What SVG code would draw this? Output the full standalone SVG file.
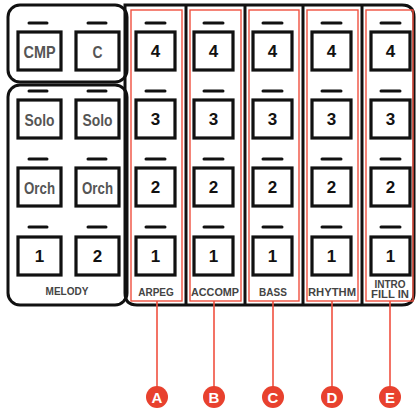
<svg xmlns="http://www.w3.org/2000/svg" width="418" height="409" viewBox="0 0 418 409">
<style>
.frame{fill:none;stroke:#111;stroke-width:3}
.btn{fill:#fff;stroke:#111;stroke-width:3.2}
.led{stroke:#111;stroke-width:3;stroke-linecap:round}
.red{fill:none;stroke:#f0503f;stroke-width:1.4}
.num{font-family:"Liberation Sans",Arial,sans-serif;font-weight:bold;font-size:17px;fill:#111;text-anchor:middle}
.word{font-family:"Liberation Sans",Arial,sans-serif;font-weight:bold;font-size:17px;fill:#555;text-anchor:middle}
.lab{font-family:"Liberation Sans",Arial,sans-serif;font-weight:bold;font-size:10px;fill:#444;text-anchor:middle}
.lead{stroke:#f0503f;stroke-width:1.6}
.dot{fill:#e8412e}
.let{font-family:"Liberation Sans",Arial,sans-serif;font-weight:bold;font-size:15px;fill:#fff;text-anchor:middle}
</style>
<rect width="418" height="409" fill="#fff"/>
<g id="frames">
<rect class="frame" x="8" y="5" width="119" height="77" rx="12"/>
<rect class="frame" x="8" y="85" width="119" height="220" rx="12"/>
<path class="frame" d="M125 5 H402 Q414 5 414 17 V293 Q414 305 402 305 H137 Q125 305 125 293 Z"/>
<line class="frame" x1="186" y1="5" x2="186" y2="305"/>
<line class="frame" x1="245" y1="5" x2="245" y2="305"/>
<line class="frame" x1="303" y1="5" x2="303" y2="305"/>
<line class="frame" x1="362" y1="5" x2="362" y2="305"/>
</g>
<g id="left-buttons">
<g id="cmp"><line class="led" x1="29" y1="23" x2="47" y2="23"/><rect class="btn" x="18" y="32" width="43" height="38"/><text class="word" x="39.5" y="57.5" textLength="32" lengthAdjust="spacingAndGlyphs">CMP</text></g>
<g id="c"><line class="led" x1="88" y1="23" x2="106" y2="23"/><rect class="btn" x="76" y="32" width="43" height="38"/><text class="word" x="97.5" y="57.5" textLength="10" lengthAdjust="spacingAndGlyphs">C</text></g>
<g id="solo1"><line class="led" x1="29" y1="91" x2="47" y2="91"/><rect class="btn" x="18" y="100" width="43" height="38"/><text class="word" x="39.5" y="125.5" textLength="30" lengthAdjust="spacingAndGlyphs">Solo</text></g>
<g id="solo2"><line class="led" x1="88" y1="91" x2="106" y2="91"/><rect class="btn" x="76" y="100" width="43" height="38"/><text class="word" x="97.5" y="125.5" textLength="30" lengthAdjust="spacingAndGlyphs">Solo</text></g>
<g id="orch1"><line class="led" x1="29" y1="159" x2="47" y2="159"/><rect class="btn" x="18" y="168" width="43" height="38"/><text class="word" x="39.5" y="193.5" textLength="31" lengthAdjust="spacingAndGlyphs">Orch</text></g>
<g id="orch2"><line class="led" x1="88" y1="159" x2="106" y2="159"/><rect class="btn" x="76" y="168" width="43" height="38"/><text class="word" x="97.5" y="193.5" textLength="31" lengthAdjust="spacingAndGlyphs">Orch</text></g>
<g id="mel1"><line class="led" x1="29" y1="227" x2="47" y2="227"/><rect class="btn" x="18" y="237" width="43" height="38"/><text class="num" x="39.5" y="262">1</text></g>
<g id="mel2"><line class="led" x1="88" y1="227" x2="106" y2="227"/><rect class="btn" x="76" y="237" width="43" height="38"/><text class="num" x="97.5" y="262">2</text></g>
<text class="lab" x="67" y="295">MELODY</text>
</g>
<g id="colA">
<rect class="red" x="131" y="10" width="51" height="291"/>
<line class="led" x1="146" y1="23" x2="165" y2="23"/><rect class="btn" x="136" y="32" width="39" height="38"/><text class="num" x="155.5" y="57">4</text>
<line class="led" x1="146" y1="91" x2="165" y2="91"/><rect class="btn" x="136" y="100" width="39" height="38"/><text class="num" x="155.5" y="125">3</text>
<line class="led" x1="146" y1="159" x2="165" y2="159"/><rect class="btn" x="136" y="168" width="39" height="38"/><text class="num" x="155.5" y="193">2</text>
<line class="led" x1="146" y1="227" x2="165" y2="227"/><rect class="btn" x="136" y="237" width="39" height="38"/><text class="num" x="155.5" y="262">1</text>
<text class="lab" x="156" y="296">ARPEG</text>
</g>
<g id="colB">
<rect class="red" x="190" y="10" width="51" height="291"/>
<line class="led" x1="204" y1="23" x2="223" y2="23"/><rect class="btn" x="194" y="32" width="39" height="38"/><text class="num" x="213.5" y="57">4</text>
<line class="led" x1="204" y1="91" x2="223" y2="91"/><rect class="btn" x="194" y="100" width="39" height="38"/><text class="num" x="213.5" y="125">3</text>
<line class="led" x1="204" y1="159" x2="223" y2="159"/><rect class="btn" x="194" y="168" width="39" height="38"/><text class="num" x="213.5" y="193">2</text>
<line class="led" x1="204" y1="227" x2="223" y2="227"/><rect class="btn" x="194" y="237" width="39" height="38"/><text class="num" x="213.5" y="262">1</text>
<text class="lab" x="215" y="296" textLength="48" lengthAdjust="spacingAndGlyphs">ACCOMP</text>
</g>
<g id="colC">
<rect class="red" x="249" y="10" width="50" height="291"/>
<line class="led" x1="263" y1="23" x2="282" y2="23"/><rect class="btn" x="253" y="32" width="39" height="38"/><text class="num" x="272.5" y="57">4</text>
<line class="led" x1="263" y1="91" x2="282" y2="91"/><rect class="btn" x="253" y="100" width="39" height="38"/><text class="num" x="272.5" y="125">3</text>
<line class="led" x1="263" y1="159" x2="282" y2="159"/><rect class="btn" x="253" y="168" width="39" height="38"/><text class="num" x="272.5" y="193">2</text>
<line class="led" x1="263" y1="227" x2="282" y2="227"/><rect class="btn" x="253" y="237" width="39" height="38"/><text class="num" x="272.5" y="262">1</text>
<text class="lab" x="273" y="296">BASS</text>
</g>
<g id="colD">
<rect class="red" x="307" y="10" width="51" height="291"/>
<line class="led" x1="322" y1="23" x2="341" y2="23"/><rect class="btn" x="312" y="32" width="39" height="38"/><text class="num" x="331.5" y="57">4</text>
<line class="led" x1="322" y1="91" x2="341" y2="91"/><rect class="btn" x="312" y="100" width="39" height="38"/><text class="num" x="331.5" y="125">3</text>
<line class="led" x1="322" y1="159" x2="341" y2="159"/><rect class="btn" x="312" y="168" width="39" height="38"/><text class="num" x="331.5" y="193">2</text>
<line class="led" x1="322" y1="227" x2="341" y2="227"/><rect class="btn" x="312" y="237" width="39" height="38"/><text class="num" x="331.5" y="262">1</text>
<text class="lab" x="332" y="296" textLength="48" lengthAdjust="spacingAndGlyphs">RHYTHM</text>
</g>
<g id="colE">
<rect class="red" x="366" y="10" width="47" height="291"/>
<line class="led" x1="381" y1="23" x2="400" y2="23"/><rect class="btn" x="371" y="32" width="39" height="38"/><text class="num" x="390.5" y="57">4</text>
<line class="led" x1="381" y1="91" x2="400" y2="91"/><rect class="btn" x="371" y="100" width="39" height="38"/><text class="num" x="390.5" y="125">3</text>
<line class="led" x1="381" y1="159" x2="400" y2="159"/><rect class="btn" x="371" y="168" width="39" height="38"/><text class="num" x="390.5" y="193">2</text>
<line class="led" x1="381" y1="227" x2="400" y2="227"/><rect class="btn" x="371" y="237" width="39" height="38"/><text class="num" x="390.5" y="262">1</text>
<text class="lab" x="390" y="288">INTRO</text>
<text class="lab" x="390" y="298" textLength="38" lengthAdjust="spacingAndGlyphs">FILL IN</text>
</g>
<g id="connectors">
<line class="lead" x1="157" y1="301" x2="157" y2="388"/>
<line class="lead" x1="214" y1="301" x2="214" y2="388"/>
<line class="lead" x1="273" y1="301" x2="273" y2="388"/>
<line class="lead" x1="332" y1="301" x2="332" y2="388"/>
<line class="lead" x1="390" y1="301" x2="390" y2="388"/>
</g>
<g id="markerA"><circle class="dot" cx="157" cy="397" r="11"/><text class="let" x="157" y="402.5">A</text></g>
<g id="markerB"><circle class="dot" cx="214" cy="397" r="11"/><text class="let" x="214" y="402.5">B</text></g>
<g id="markerC"><circle class="dot" cx="273" cy="397" r="11"/><text class="let" x="273" y="402.5">C</text></g>
<g id="markerD"><circle class="dot" cx="332" cy="397" r="11"/><text class="let" x="332" y="402.5">D</text></g>
<g id="markerE"><circle class="dot" cx="390" cy="397" r="11"/><text class="let" x="390" y="402.5">E</text></g>
</svg>
